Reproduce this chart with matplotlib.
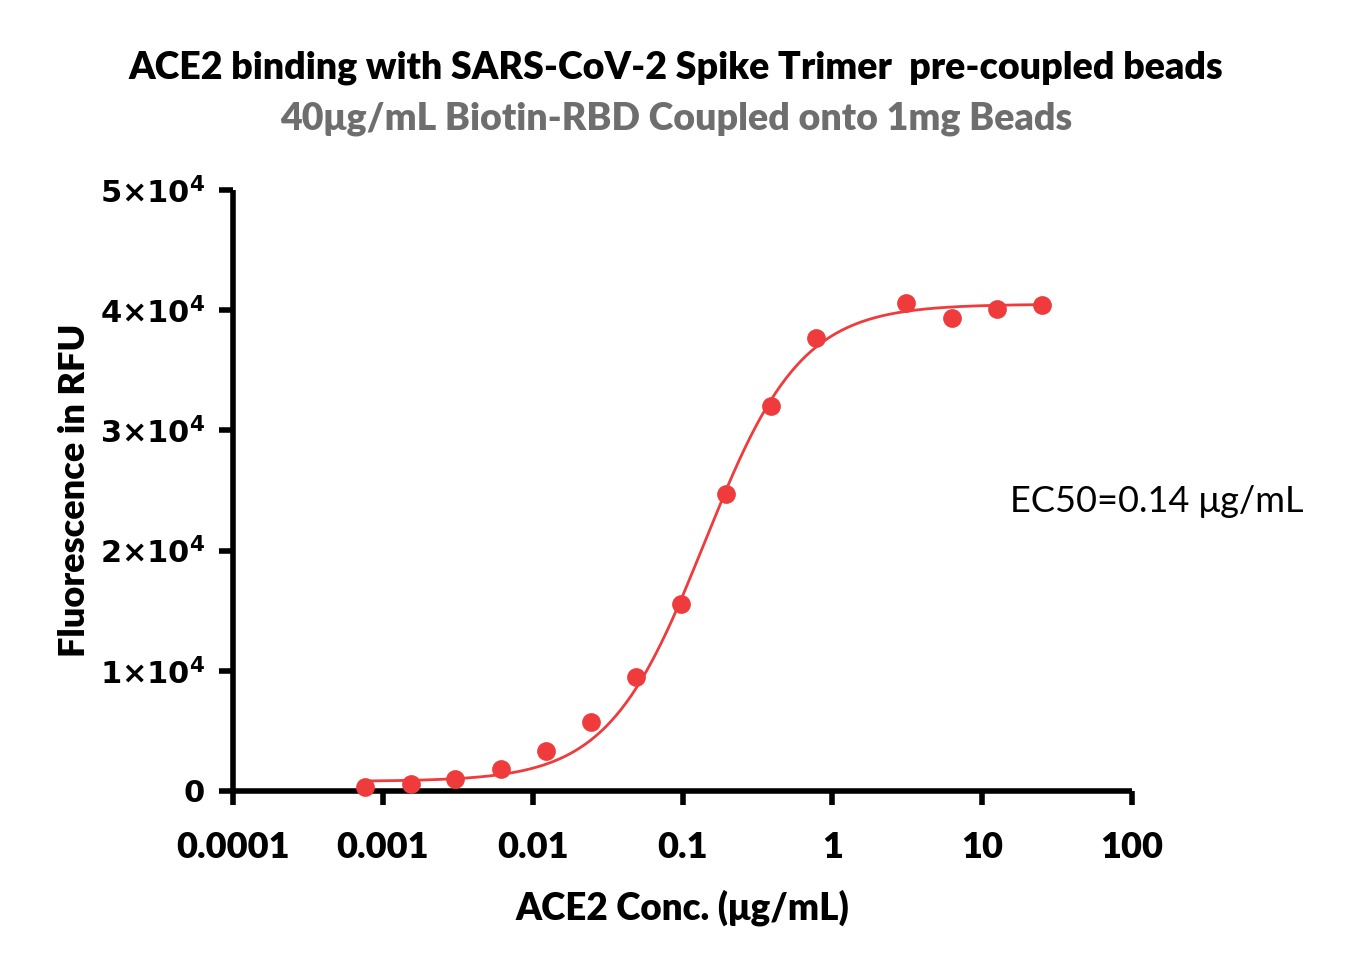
import numpy as np
import matplotlib
matplotlib.use("Agg")
import matplotlib.pyplot as plt
from matplotlib.ticker import FixedLocator, FixedFormatter, NullLocator

# ---- data ----
conc = [0.000763, 0.00153, 0.00305, 0.0061, 0.0122, 0.0244, 0.0488, 0.0977,
        0.195, 0.391, 0.781, 3.125, 6.25, 12.5, 25.0]
rfu = [330, 580, 1000, 1830, 3330, 5740, 9480, 15560,
       24710, 32030, 37690, 40600, 39350, 40100, 40430]
# 4PL fit parameters
fit_bottom = 800
fit_top = 40500
fit_ec50 = 0.14
fit_hill = 1.35

xticks = [0.0001, 0.001, 0.01, 0.1, 1, 10, 100]
xticklabels = ["0.0001", "0.001", "0.01", "0.1", "1", "10", "100"]
yticks = [0, 10000, 20000, 30000, 40000, 50000]
yticklabels = ["0", r"1×10$^{4}$", r"2×10$^{4}$", r"3×10$^{4}$", r"4×10$^{4}$", r"5×10$^{4}$"]

title1 = "ACE2 binding with SARS-CoV-2 Spike Trimer  pre-coupled beads"
title2 = "40μg/mL Biotin-RBD Coupled onto 1mg Beads"
xlabel = "ACE2 Conc. (μg/mL)"
ylabel = "Fluorescence in RFU"
ec50_text = "EC50=0.14 μg/mL"

red = "#EF3B3B"

plt.rcParams['mathtext.fontset'] = 'dejavusans'
plt.rcParams['mathtext.default'] = 'bf'
fig = plt.figure(figsize=(13.52, 9.69), dpi=100)
ax = fig.add_axes([233/1352, 1-791/969, (1132-233)/1352, (791-190)/969])

xs = np.logspace(np.log10(conc[0]), np.log10(conc[-1]), 400)
ys = fit_bottom + (fit_top - fit_bottom) / (1 + (fit_ec50 / xs) ** fit_hill)
ax.plot(xs, ys, color=red, lw=2.0, zorder=3, clip_on=False)
ax.plot(conc, rfu, 'o', color=red, ms=13.5, mec='none', zorder=4, clip_on=False)

ax.set_xscale('log')
ax.set_xlim(0.0001, 100)
ax.set_ylim(0, 50000)
ax.xaxis.set_major_locator(FixedLocator(xticks))
ax.xaxis.set_major_formatter(FixedFormatter(xticklabels))
ax.xaxis.set_minor_locator(NullLocator())
ax.yaxis.set_major_locator(FixedLocator(yticks))
ax.yaxis.set_major_formatter(FixedFormatter(yticklabels))

for s in ['top', 'right']:
    ax.spines[s].set_visible(False)
for s in ['left', 'bottom']:
    ax.spines[s].set_linewidth(4.0)
    ax.spines[s].set_capstyle('butt')
ax.tick_params(axis='both', which='major', length=10, width=4.0, direction='out')
ax.tick_params(axis='x', pad=19)
ax.tick_params(axis='y', pad=10)

for lab in ax.get_xticklabels():
    lab.set_fontfamily('Lato')
    lab.set_fontweight('heavy')
    lab.set_fontsize(26)
for lab in ax.get_yticklabels():
    lab.set_fontfamily('DejaVu Sans')
    lab.set_fontweight('bold')
    lab.set_fontsize(22)

ax.set_xlabel(xlabel, fontfamily='Lato', fontweight='heavy', fontsize=26.5, labelpad=18)
ax.set_ylabel(ylabel, fontfamily='Lato', fontweight='heavy', fontsize=26, labelpad=6)

fig.text(0.5, 1-68/969, title1, ha='center', va='center', fontfamily='Lato',
         fontweight='heavy', fontsize=27, color='black')
fig.text(0.5, 1-119/969, title2, ha='center', va='center', fontfamily='Lato',
         fontweight='heavy', fontsize=27, color='#6E6E6E')
fig.text(1010/1352, 1-502/969, ec50_text, ha='left', va='center', fontfamily='Lato',
         fontsize=26, color='black')

fig.savefig("out.png", dpi=100, facecolor='white')
